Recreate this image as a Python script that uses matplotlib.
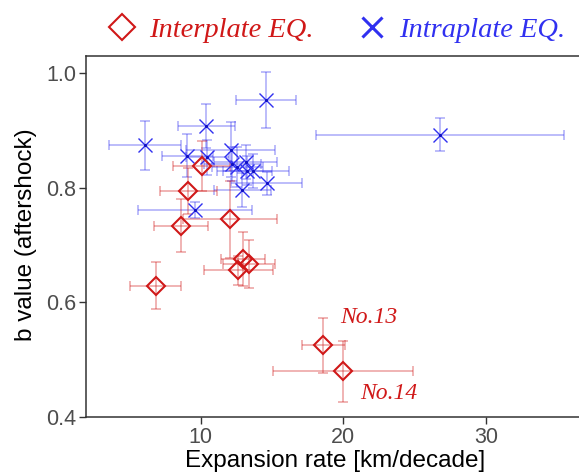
import matplotlib
matplotlib.use('Agg')
import matplotlib.pyplot as plt
from matplotlib.lines import Line2D

# Interplate (rojo)
inter_x = [10.07, 9.14, 8.62, 12.05, 6.84, 12.99, 13.39, 12.64, 18.6, 20.0]
inter_y = [0.838, 0.795, 0.734, 0.745, 0.629, 0.675, 0.667, 0.656, 0.525, 0.480]
inter_xerr = [2.0, 2.0, 1.9, 3.3, 1.8, 1.55, 1.8, 2.4, 1.5, 4.9]
inter_yerr = [0.043, 0.040, 0.046, 0.067, 0.041, 0.047, 0.042, 0.025, 0.048, 0.053]

# Intraplate (azul)
intra_x = [6.09, 10.4, 14.6, 9.07, 10.47, 12.1, 12.22, 12.57, 13.16, 13.28, 13.67, 12.92, 14.63, 9.6, 26.78]
intra_y = [0.874, 0.908, 0.953, 0.856, 0.853, 0.866, 0.842, 0.836, 0.845, 0.830, 0.829, 0.796, 0.808, 0.761, 0.893]
intra_xerr = [2.5, 2.0, 2.1, 1.8, 1.5, 3.1, 2.0, 1.8, 2.2, 1.7, 2.5, 2.0, 2.5, 4.0, 8.7]
intra_yerr = [0.043, 0.038, 0.049, 0.038, 0.030, 0.048, 0.030, 0.035, 0.030, 0.025, 0.030, 0.030, 0.020, 0.014, 0.028]

red = '#D01818'
blue = '#3030F0'

fig = plt.figure(figsize=(5.79, 4.76), dpi=100)
ax = fig.add_axes([86/579, 59/476, 494/579, 361/476])

ax.errorbar(intra_x, intra_y, xerr=intra_xerr, yerr=intra_yerr, fmt='none',
            ecolor=blue, alpha=0.35, elinewidth=1.3, capsize=3.5, capthick=1.3, zorder=2)
ax.errorbar(inter_x, inter_y, xerr=inter_xerr, yerr=inter_yerr, fmt='none',
            ecolor=red, alpha=0.35, elinewidth=1.3, capsize=3.5, capthick=1.3, zorder=2)
ax.plot(intra_x, intra_y, linestyle='none', marker='x', markersize=10,
        markeredgewidth=1.0, color=blue, zorder=3)
ax.plot(intra_x, intra_y, linestyle='none', marker='o', markersize=2.2,
        color='#1010C0', markeredgewidth=0, zorder=3)
ax.plot(inter_x, inter_y, linestyle='none', marker='D', markersize=9.5,
        markeredgewidth=1.5, markerfacecolor='none', markeredgecolor=red, zorder=4)

# Etiquetas de los eventos 13 y 14
ax.text(19.75, 0.574, 'No.13', color=red, fontsize=17, fontstyle='italic',
        family='Liberation Serif', ha='left', va='center')
ax.text(21.2, 0.441, 'No.14', color=red, fontsize=17, fontstyle='italic',
        family='Liberation Serif', ha='left', va='center')

ax.set_xlim(1.96, 36.6)
ax.set_ylim(0.4, 1.03)
ax.set_xticks([10, 20, 30])
ax.set_yticks([0.4, 0.6, 0.8, 1.0])
ax.set_yticklabels(['0.4', '0.6', '0.8', '1.0'])
ax.tick_params(axis='both', colors='#333333', labelcolor='#4D4D4D', labelsize=15.5,
               length=5, width=1, pad=2)
for s in ['left', 'bottom', 'top']:
    ax.spines[s].set_color('#333333')
    ax.spines[s].set_linewidth(1.1)
ax.spines['right'].set_visible(False)
for lab in ax.get_xticklabels() + ax.get_yticklabels():
    lab.set_family('Liberation Sans')

ax.set_xlabel('Expansion rate [km/decade]', fontsize=17.5, family='Liberation Sans', va='top')
ax.set_ylabel('b value (aftershock)', fontsize=17.5, family='Liberation Sans', va='center')
ax.xaxis.set_label_coords(0.504, -0.092)
ax.yaxis.set_label_coords(-0.121, 0.504)

handles = [
    Line2D([], [], linestyle='none', marker='D', markersize=13, markeredgewidth=1.5,
           markerfacecolor='none', markeredgecolor=red),
    Line2D([], [], linestyle='none', marker='x', markersize=14, markeredgewidth=2.2,
           color=blue),
]
leg = fig.legend(handles, ['Interplate EQ.', 'Intraplate EQ.'], loc='center',
                 bbox_to_anchor=(0.58, 0.937), ncol=2, frameon=False,
                 prop={'family': 'Liberation Serif', 'style': 'italic', 'size': 20.5},
                 handletextpad=0.4, columnspacing=1.5, handlelength=1.1)
leg.get_texts()[0].set_color(red)
leg.get_texts()[1].set_color(blue)

fig.savefig('out.png', dpi=100)
